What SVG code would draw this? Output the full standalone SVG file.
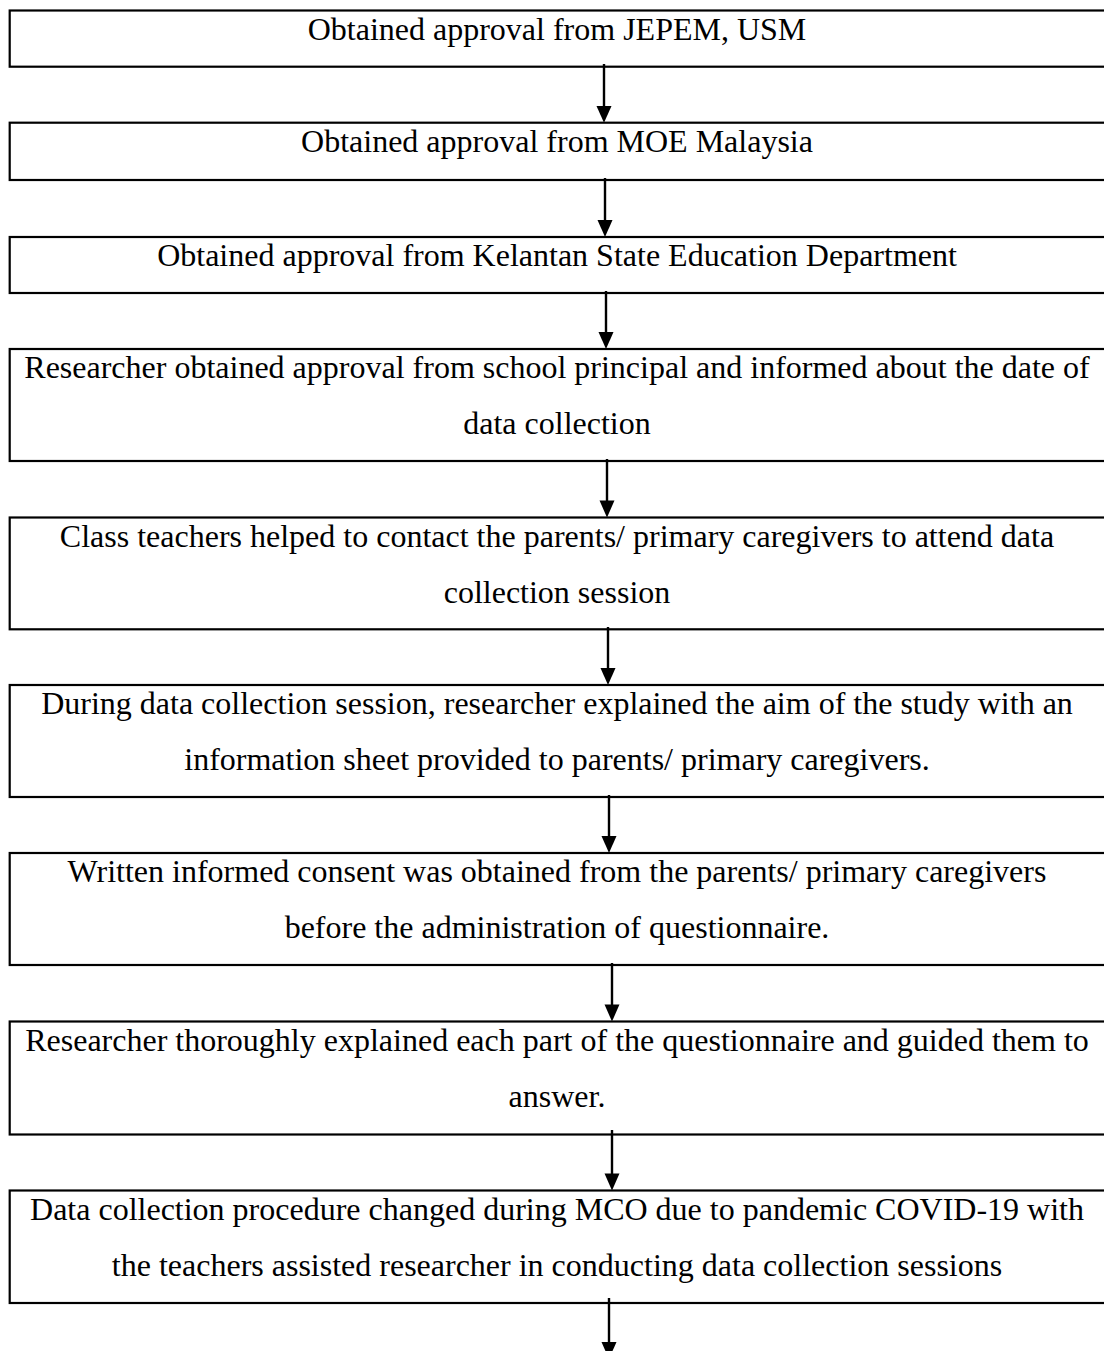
<svg xmlns="http://www.w3.org/2000/svg" width="1104" height="1351" viewBox="0 0 1104 1351">
<defs>
<style>
.box{fill:#fff;stroke:#000;stroke-width:2.2}
.t{font-family:"Liberation Serif","Times New Roman",serif;font-size:32px;fill:#000;text-anchor:middle}
.c{stroke:#000;stroke-width:2.4;fill:none}
.h{fill:#000}
</style>
</defs>
<rect width="1104" height="1351" fill="#fff"/>
<g id="n1"><rect class="box" x="9.7" y="10.5" width="1110" height="56.2"/><text class="t" x="557" y="40">Obtained approval from JEPEM, USM</text></g>
<g id="n2"><rect class="box" x="9.7" y="122.7" width="1110" height="57.3"/><text class="t" x="557" y="151.5">Obtained approval from MOE Malaysia</text></g>
<g id="n3"><rect class="box" x="9.7" y="237" width="1110" height="56"/><text class="t" x="557" y="265.5">Obtained approval from Kelantan State Education Department</text></g>
<g id="n4"><rect class="box" x="9.7" y="349" width="1110" height="112"/><text class="t" x="557" y="378">Researcher obtained approval from school principal and informed about the date of</text><text class="t" x="557" y="434">data collection</text></g>
<g id="n5"><rect class="box" x="9.7" y="517.5" width="1110" height="111.8"/><text class="t" x="557" y="546.5">Class teachers helped to contact the parents/ primary caregivers to attend data</text><text class="t" x="557" y="602.5">collection session</text></g>
<g id="n6"><rect class="box" x="9.7" y="685" width="1110" height="112"/><text class="t" x="557" y="714">During data collection session, researcher explained the aim of the study with an</text><text class="t" x="557" y="770">information sheet provided to parents/ primary caregivers.</text></g>
<g id="n7"><rect class="box" x="9.7" y="853" width="1110" height="112"/><text class="t" x="557" y="882">Written informed consent was obtained from the parents/ primary caregivers</text><text class="t" x="557" y="938">before the administration of questionnaire.</text></g>
<g id="n8"><rect class="box" x="9.7" y="1021.5" width="1110" height="113"/><text class="t" x="557" y="1050.5">Researcher thoroughly explained each part of the questionnaire and guided them to</text><text class="t" x="557" y="1106.5">answer.</text></g>
<g id="n9"><rect class="box" x="9.7" y="1190.5" width="1110" height="112.5"/><text class="t" x="557" y="1219.5">Data collection procedure changed during MCO due to pandemic COVID-19 with</text><text class="t" x="557" y="1275.5">the teachers assisted researcher in conducting data collection sessions</text></g>
<g id="connectors">
<line class="c" x1="604" y1="64" x2="604" y2="108"/><polygon class="h" points="596.5,106 611.5,106 604,122.7"/>
<line class="c" x1="605" y1="178" x2="605" y2="222"/><polygon class="h" points="597.5,220 612.5,220 605,237"/>
<line class="c" x1="606" y1="291" x2="606" y2="334"/><polygon class="h" points="598.5,332 613.5,332 606,349"/>
<line class="c" x1="607" y1="459" x2="607" y2="502"/><polygon class="h" points="599.5,500.5 614.5,500.5 607,517.5"/>
<line class="c" x1="608" y1="627" x2="608" y2="670"/><polygon class="h" points="600.5,668 615.5,668 608,685"/>
<line class="c" x1="609" y1="795" x2="609" y2="838"/><polygon class="h" points="601.5,836 616.5,836 609,853"/>
<line class="c" x1="612" y1="963" x2="612" y2="1006"/><polygon class="h" points="604.5,1004.5 619.5,1004.5 612,1021.5"/>
<line class="c" x1="612" y1="1130" x2="612" y2="1175"/><polygon class="h" points="604.5,1173.5 619.5,1173.5 612,1190.5"/>
<line class="c" x1="609" y1="1298" x2="609" y2="1343"/><polygon class="h" points="601.5,1342 616.5,1342 609,1359"/>
</g>
</svg>
